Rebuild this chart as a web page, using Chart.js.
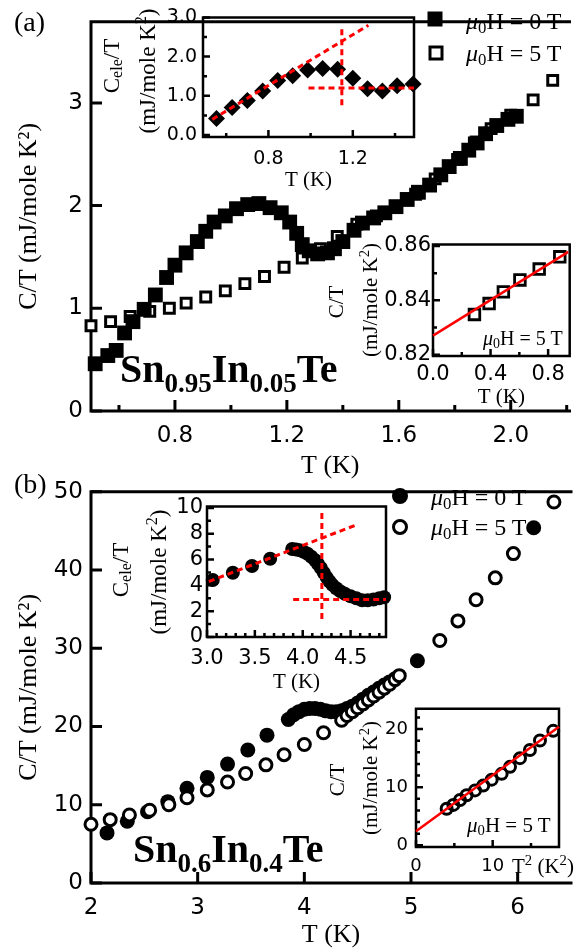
<!DOCTYPE html>
<html>
<head>
<meta charset="utf-8">
<script src="https://cdn.jsdelivr.net/npm/chart.js@4.4.1/dist/chart.umd.min.js"></script>
<style>
html, body { margin: 0; padding: 0; background: #fff; }
#page { position: relative; width: 580px; height: 951px; overflow: hidden; }
.c { position: absolute; }
.t { position: absolute; z-index: 2; font-family: "Liberation Serif", "Times New Roman", serif; line-height: 1; white-space: nowrap; color: #000; }
.mid { transform: translateY(-50%); }
.rot { transform: translate(-50%, -50%) rotate(-90deg); }
.t sub { font-size: 0.7em; vertical-align: -0.22em; line-height: 0; }
.t sup { font-size: 0.7em; vertical-align: 0.5em; line-height: 0; }
.cmp { font-weight: bold; font-size: 40px; }
.cmp sub { font-size: 27px; vertical-align: -10px; }
.mk { position: absolute; z-index: 2; box-sizing: border-box; transform: translate(-50%, -50%); }
</style>
</head>
<body>
<div id="page">
  <div class="t mid" style="left:14px;top:22px;font-size:28px">(a)</div>
  <div class="t mid" style="left:14px;top:484px;font-size:28px">(b)</div>

  <div class="mk" style="left:435px;top:19px;width:15px;height:15px;background:#000"></div>
  <div class="t mid" style="left:466px;top:21px;font-size:24px"><i>μ</i><sub>0</sub>H = 0 T</div>
  <div class="mk" style="left:436px;top:53px;width:15px;height:15px;border:3px solid #000"></div>
  <div class="t mid" style="left:466px;top:53px;font-size:24px"><i>μ</i><sub>0</sub>H = 5 T</div>

  <div class="mk" style="left:400px;top:496px;width:16px;height:16px;border-radius:50%;background:#000"></div>
  <div class="t mid" style="left:431px;top:497px;font-size:24px"><i>μ</i><sub>0</sub>H = 0 T</div>
  <div class="mk" style="left:400px;top:527px;width:16px;height:16px;border-radius:50%;border:3px solid #000"></div>
  <div class="t mid" style="left:431px;top:527px;font-size:24px"><i>μ</i><sub>0</sub>H = 5 T</div>

  <div class="t cmp" style="left:120px;top:349px">Sn<sub>0.95</sub>In<sub>0.05</sub>Te</div>
  <div class="t cmp" style="left:133px;top:829px">Sn<sub>0.6</sub>In<sub>0.4</sub>Te</div>

  <div class="t rot" style="left:111px;top:66px;font-size:23px">C<sub>ele</sub>/T</div>
  <div class="t rot" style="left:147px;top:71px;font-size:23px">(mJ/mole K<sup>2</sup>)</div>
  <div class="t rot" style="left:336px;top:302px;font-size:21px">C/T</div>
  <div class="t rot" style="left:370px;top:300px;font-size:21px">(mJ/mole K<sup>2</sup>)</div>
  <div class="t mid" style="left:483px;top:338px;font-size:20px"><i>μ</i><sub>0</sub>H = 5 T</div>

  <div class="t rot" style="left:120px;top:570px;font-size:23px">C<sub>ele</sub>/T</div>
  <div class="t rot" style="left:158px;top:572px;font-size:23px">(mJ/mole K<sup>2</sup>)</div>
  <div class="t rot" style="left:337px;top:780px;font-size:21px">C/T</div>
  <div class="t rot" style="left:370px;top:778px;font-size:21px">(mJ/mole K<sup>2</sup>)</div>
  <div class="t mid" style="left:467px;top:825px;font-size:21px"><i>μ</i><sub>0</sub>H = 5 T</div>
  <div class="t mid" style="left:512px;top:866px;font-size:21px">T<sup>2</sup> (K<sup>2</sup>)</div>
</div>
<script>
// ---- panel (a): Sn0.95In0.05Te ----
const tA0 = [0.515,0.56,0.59,0.62,0.65,0.69,0.73,0.77,0.80,0.84,0.88,0.91,0.94,0.98,1.02,1.06,1.10,1.14,1.18,1.21,1.235,1.255,1.28,1.31,1.345,1.37,1.40,1.44,1.47,1.51,1.55,1.59,1.63,1.67,1.71,1.75,1.78,1.82,1.85,1.88,1.91,1.95,1.99,2.02];
const cA0 = [0.46,0.54,0.59,0.76,0.87,0.99,1.13,1.30,1.42,1.54,1.65,1.75,1.84,1.90,1.97,2.01,2.02,1.98,1.93,1.84,1.73,1.62,1.56,1.53,1.54,1.58,1.65,1.76,1.83,1.88,1.93,1.99,2.06,2.13,2.20,2.30,2.38,2.46,2.54,2.61,2.70,2.78,2.84,2.87];
const tA5 = [0.50,0.57,0.64,0.71,0.78,0.84,0.91,0.98,1.05,1.12,1.19,1.255,1.32,1.38,1.45,1.52,1.59,1.66,1.73,1.81,1.87,1.93,2.00,2.08,2.15];
const cA5 = [0.83,0.87,0.92,0.97,1.00,1.05,1.11,1.17,1.24,1.31,1.40,1.49,1.58,1.70,1.82,1.90,1.99,2.11,2.26,2.45,2.61,2.75,2.88,3.03,3.22];
// inset: electronic C/T
const tAe = [0.554,0.628,0.70,0.773,0.844,0.915,0.986,1.057,1.128,1.20,1.27,1.34,1.41,1.486];
const cAe = [0.42,0.70,0.88,1.12,1.39,1.51,1.66,1.70,1.68,1.45,1.18,1.12,1.26,1.30];
const guideAdiag = [[0.534,0.40],[1.274,2.80]];
const guideAflat = [[0.99,1.20],[1.49,1.20]];
const guideAtc = [[1.148,0.76],[1.148,2.73]];
// inset: 5 T low-T
const tAl = [0.288,0.39,0.489,0.604,0.738,0.881];
const cAl = [0.8348,0.8388,0.8431,0.8475,0.8515,0.856];
const fitAl = [[0,0.827],[0.94,0.8578]];

// ---- panel (b): Sn0.6In0.4Te ----
const tB0 = [2.15,2.34,2.53,2.72,2.90,3.09,3.28,3.47,3.65,3.85,3.90,3.95,4.00,4.05,4.10,4.15,4.20,4.25,4.30,4.35,4.40,4.45,4.50,4.55,4.60,4.65,4.70,4.75,4.80,4.85,5.06,6.15];
const cB0 = [6.4,7.9,9.1,10.4,12.1,13.5,15.2,17.0,18.9,20.9,21.5,21.9,22.2,22.3,22.3,22.2,22.0,21.9,21.9,22.0,22.3,22.6,23.0,23.5,24.0,24.4,24.9,25.3,25.7,26.1,28.4,45.4];
const tB5 = [2.00,2.18,2.36,2.55,2.73,2.90,3.09,3.28,3.45,3.64,3.81,4.00,4.18,4.35,4.40,4.45,4.50,4.55,4.60,4.65,4.70,4.75,4.80,4.85,4.89,5.27,5.44,5.61,5.79,5.96,6.34];
const cB5 = [7.5,8.1,8.7,9.3,10.0,10.9,11.9,12.9,14.0,15.1,16.4,17.7,19.2,20.8,21.4,21.9,22.4,22.9,23.4,23.9,24.4,24.9,25.4,26.0,26.5,31.0,33.5,36.2,39.0,42.1,48.7];
const tBe = [3.06,3.27,3.47,3.66,3.89,3.93,3.97,4.01,4.05,4.09,4.13,4.16,4.19,4.22,4.25,4.28,4.31,4.35,4.39,4.44,4.50,4.56,4.62,4.68,4.74,4.80,4.85];
const cBe = [4.42,4.98,5.50,6.06,6.82,6.78,6.72,6.60,6.45,6.22,5.94,5.65,5.35,4.98,4.62,4.30,4.04,3.78,3.55,3.35,3.16,3.00,2.85,2.85,2.90,3.00,3.08];
const guideBdiag = [[3.02,4.30],[4.57,8.71]];
const guideBflat = [[3.90,2.91],[4.87,2.91]];
const guideBtc = [[4.20,1.39],[4.20,9.85]];
const t2B = [4.0,4.87,5.74,6.6,7.7,8.77,9.87,11.17,12.26,13.56,14.86,16.17,17.9];
const cB2 = [6.3,6.95,7.8,8.6,9.45,10.3,11.3,12.3,13.5,15.0,16.4,18.05,19.7];
const fitB2 = [[0,2.4],[18.65,20.4]];

// tick values
const ticksAx = [0.8,1.2,1.6,2.0], minorAx = [0.6,1.0,1.4,1.8,2.2], ticksAy = [0,1,2,3];
const ticksAex = [0.8,1.2], minorAex = [0.6,1.0,1.4], ticksAey = [0,1,2,3], minorAey = [0.5,1.5,2.5];
const ticksAlx = [0,0.4,0.8], minorAlx = [0.2,0.6], ticksAly = [0.82,0.84,0.86], minorAly = [0.83,0.85];
const ticksBx = [2,3,4,5,6], ticksBy = [0,10,20,30,40,50];
const ticksBex = [3.0,3.5,4.0,4.5], minorBex = [3.1,3.2,3.3,3.4,3.6,3.7,3.8,3.9,4.1,4.2,4.3,4.4,4.6,4.7,4.8];
const ticksBey = [0,2,4,6,8,10], minorBey = [1,3,5,7,9];
const ticksB2x = [0,10], minorB2x = [5,15], ticksB2y = [0,10,20], minorB2y = [2,4,6,8,12,14,16,18,22];

const SERIF = '"Liberation Serif", "Times New Roman", serif';
const SANS = '"DejaVu Sans", sans-serif';
const RED = '#ff0000';

const pts = (xs, ys) => xs.map((x, i) => ({x, y: ys[i]}));
const seg = s => s.map(([x, y]) => ({x, y}));
const dotted = s => ({data: seg(s), showLine: true, pointRadius: 0, borderColor: RED, borderWidth: 3, borderDash: [6, 4], clip: false});
const solid = s => ({data: seg(s), showLine: true, pointRadius: 0, borderColor: RED, borderWidth: 2.5, clip: false});

// box frame with inward ticks
Chart.register({
  id: 'frame',
  beforeDatasetsDraw(chart, args, o) {
    const {ctx, chartArea: a} = chart;
    const x = chart.scales.x, y = chart.scales.y;
    ctx.save();
    ctx.strokeStyle = '#000';
    ctx.lineWidth = o.lw;
    ctx.lineCap = 'square';
    ctx.beginPath();
    ctx.moveTo(a.right, a.top); ctx.lineTo(a.left, a.top);
    ctx.lineTo(a.left, a.bottom); ctx.lineTo(a.right, a.bottom);
    if (o.right) ctx.lineTo(a.right, a.top);
    ctx.stroke();
    ctx.lineCap = 'butt';
    ctx.beginPath();
    const tick = (sc, vals, len) => vals.forEach(v => {
      const p = sc.getPixelForValue(v);
      if (sc.axis === 'x') { ctx.moveTo(p, a.bottom); ctx.lineTo(p, a.bottom - len); }
      else { ctx.moveTo(a.left, p); ctx.lineTo(a.left + len, p); }
    });
    tick(x, x.ticks.map(t => t.value), o.major);
    tick(y, y.ticks.map(t => t.value), o.major);
    tick(x, o.xMinor || [], o.minor);
    tick(y, o.yMinor || [], o.minor);
    ctx.stroke();
    ctx.restore();
  }
});

function makeChart(s) {
  const [bl, bt, bw, bh] = s.box;
  const [L, T, R, B] = s.area;
  const div = document.createElement('div');
  div.className = 'c';
  Object.assign(div.style, {left: bl + 'px', top: bt + 'px', width: bw + 'px', height: bh + 'px'});
  const cv = document.createElement('canvas');
  cv.width = bw; cv.height = bh;
  div.appendChild(cv);
  document.getElementById('page').appendChild(div);
  const axis = (ax, isX) => ({
    type: 'linear', position: isX ? 'bottom' : 'left', min: ax.min, max: ax.max,
    grid: {display: false, drawTicks: false}, border: {display: false},
    ticks: {color: '#000', font: {family: SANS, size: ax.size}, padding: ax.pad,
            maxRotation: 0, autoSkip: false, callback: v => v.toFixed(ax.dec)},
    afterBuildTicks: sc => { sc.ticks = ax.ticks.map(v => ({value: v})); },
    afterFit: sc => { if (isX) sc.height = bt + bh - B; else sc.width = L - bl; },
    title: ax.title
      ? {display: true, text: ax.title, color: '#000', font: {family: SERIF, size: ax.tsize},
         padding: isX ? {top: 0, bottom: ax.tpad} : {top: ax.tpad, bottom: 0}}
      : {display: false}
  });
  return new Chart(cv, {
    type: 'scatter',
    data: {datasets: s.datasets},
    options: {
      responsive: false, animation: false, devicePixelRatio: 1,
      layout: {padding: {left: 0, top: T - bt, right: bl + bw - R, bottom: 0}},
      plugins: {legend: {display: false}, tooltip: {enabled: false}, frame: s.frame},
      scales: {x: axis(s.x, true), y: axis(s.y, false)}
    }
  });
}

// main (a)
makeChart({
  box: [0, 0, 580, 485], area: [91, 7, 580, 411],
  x: {min: 0.5, max: 2.21, ticks: ticksAx, dec: 1, size: 23, pad: 11, title: 'T (K)', tsize: 26, tpad: 3},
  y: {min: 0, max: 3.79, ticks: ticksAy, dec: 0, size: 23, pad: 8, title: 'C/T (mJ/mole K²)', tsize: 26, tpad: 14},
  frame: {lw: 3, major: 11, minor: 6, xMinor: minorAx, right: false},
  datasets: [
    {data: pts(tA0, cA0), pointStyle: 'rect', pointRadius: 10.5, backgroundColor: '#000', borderWidth: 0, clip: false},
    {data: pts(tA5, cA5), pointStyle: 'rect', pointRadius: 7, backgroundColor: '#fff', borderColor: '#000', borderWidth: 3, clip: false}
  ]
});
// inset (a) top
makeChart({
  box: [100, 0, 330, 193], area: [203, 16, 414, 137],
  x: {min: 0.49, max: 1.49, ticks: ticksAex, dec: 1, size: 19, pad: 11, title: 'T (K)', tsize: 21, tpad: 0},
  y: {min: -0.05, max: 3.0, ticks: ticksAey, dec: 1, size: 19, pad: 6},
  frame: {lw: 2.5, major: 7, minor: 4, xMinor: minorAex, yMinor: minorAey, right: true},
  datasets: [
    dotted(guideAdiag), dotted(guideAflat), dotted(guideAtc),
    {data: pts(tAe, cAe), pointStyle: 'rectRot', pointRadius: 8.5, backgroundColor: '#000', borderWidth: 0, clip: false}
  ]
});
// inset (a) right
makeChart({
  box: [380, 230, 200, 180], area: [433, 244, 570, 356],
  x: {min: 0, max: 0.95, ticks: ticksAlx, dec: 1, size: 21, pad: 6, title: 'T (K)', tsize: 21, tpad: 0},
  y: {min: 0.8195, max: 0.8605, ticks: ticksAly, dec: 2, size: 21, pad: 2},
  frame: {lw: 2.5, major: 7, minor: 4, xMinor: minorAlx, yMinor: minorAly, right: true},
  datasets: [
    solid(fitAl),
    {data: pts(tAl, cAl), pointStyle: 'rect', pointRadius: 7.5, backgroundColor: 'rgba(0,0,0,0)', borderColor: '#000', borderWidth: 2.8, clip: false}
  ]
});
// main (b)
makeChart({
  box: [0, 470, 580, 481], area: [91, 484, 580, 883],
  x: {min: 2, max: 6.5, ticks: ticksBx, dec: 0, size: 23, pad: 11, title: 'T (K)', tsize: 26, tpad: 0},
  y: {min: 0, max: 50, ticks: ticksBy, dec: 0, size: 23, pad: 8, title: 'C/T (mJ/mole K²)', tsize: 26, tpad: 14},
  frame: {lw: 3, major: 11, minor: 6, right: false},
  datasets: [
    {data: pts(tB5, cB5), pointStyle: 'circle', pointRadius: 6, backgroundColor: '#fff', borderColor: '#000', borderWidth: 3, clip: false},
    {data: pts(tB0, cB0), pointStyle: 'circle', pointRadius: 7.5, backgroundColor: '#000', borderWidth: 0, clip: false}
  ]
});
// inset (b) top
makeChart({
  box: [100, 490, 300, 205], area: [207, 503, 386, 637],
  x: {min: 3.0, max: 4.87, ticks: ticksBex, dec: 1, size: 21, pad: 9, title: 'T (K)', tsize: 21, tpad: 0},
  y: {min: 0, max: 10.1, ticks: ticksBey, dec: 0, size: 21, pad: 4},
  frame: {lw: 2.5, major: 7, minor: 4, xMinor: minorBex, yMinor: minorBey, right: true},
  datasets: [
    dotted(guideBdiag), dotted(guideBflat), dotted(guideBtc),
    {data: pts(tBe, cBe), pointStyle: 'circle', pointRadius: 7, backgroundColor: '#000', borderWidth: 0, clip: false}
  ]
});
// inset (b) right
makeChart({
  box: [370, 690, 210, 190], area: [416, 704, 559, 847],
  x: {min: 0, max: 18.65, ticks: ticksB2x, dec: 0, size: 18, pad: 8.7},
  y: {min: -0.3, max: 23.5, ticks: ticksB2y, dec: 0, size: 18, pad: 8},
  frame: {lw: 2.5, major: 7, minor: 4, xMinor: minorB2x, yMinor: minorB2y, right: true},
  datasets: [
    solid(fitB2),
    {data: pts(t2B, cB2), pointStyle: 'circle', pointRadius: 5.5, backgroundColor: 'rgba(0,0,0,0)', borderColor: '#000', borderWidth: 3, clip: false}
  ]
});
</script>
</body>
</html>
